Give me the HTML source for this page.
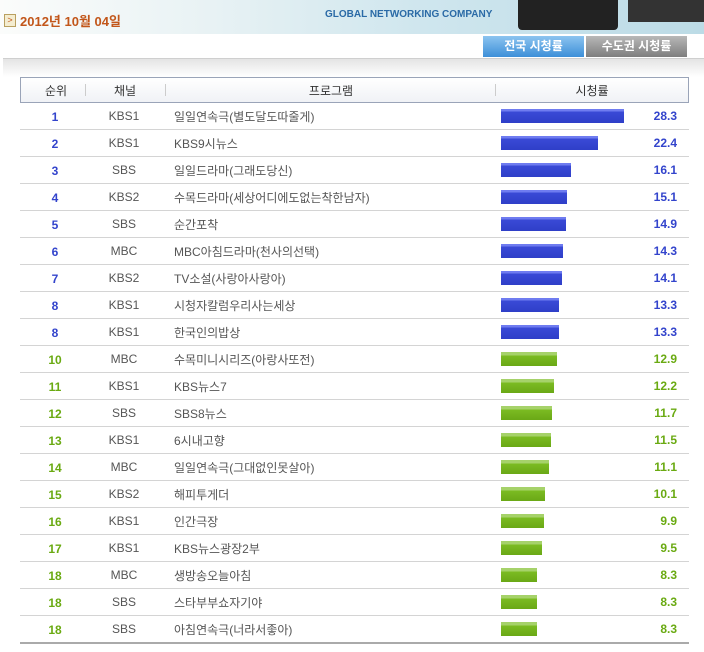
<!DOCTYPE html>
<html><head><meta charset="utf-8"><style>
body{margin:0;width:704px;height:652px;background:#fff;font-family:"Liberation Sans","Noto Sans CJK KR",sans-serif;position:relative;overflow:hidden}
.banner{position:absolute;left:0;top:0;width:704px;height:34px;background:linear-gradient(90deg,#fbfcfb 0%,#e8f2f4 30%,#cfe6ee 60%,#bcdbe6 100%)}
.date{position:absolute;left:20px;top:11px;font-size:13px;color:#c2561a;font-weight:bold}
.ic{position:absolute;left:4px;top:14px;width:10px;height:11px;border:1px solid #b9a060;background:#f4edd0;font-size:9px;line-height:11px;text-align:center;color:#c2561a}
.glob{position:absolute;left:325px;top:9px;font-size:10px;font-weight:bold;color:#2a6aa6}
.mon{position:absolute;left:518px;top:0;width:100px;height:30px;background:#222;border-radius:0 0 4px 4px}
.mon2{position:absolute;left:628px;top:0;width:76px;height:22px;background:#333}
.tab{position:absolute;top:36px;height:21px;width:101px;color:#fff;font-size:12px;font-weight:bold;text-align:center;line-height:21px}
.band{position:absolute;left:3px;top:58px;width:701px;height:18px;border-top:1px solid #cfcfcf;background:linear-gradient(#e4e4e4,#fff)}
.hdr{position:absolute;left:20px;top:77px;width:667px;height:24px;border:1px solid #9aa4b8;background:linear-gradient(#fff,#f0f2f6);font-size:12px;color:#333}
.hdr span{position:absolute;top:4px}
.sep{position:absolute;top:6px;width:1px;height:12px;background:#ccc}
.row{position:absolute;left:20px;width:669px;height:26px;border-bottom:1px solid #d4d4d4;font-size:12px;color:#555}
.row span{position:absolute;top:6px}
.r{width:70px;left:0;text-align:center;font-weight:bold;top:7px!important}
.c{width:70px;left:69px;text-align:center}
.p{left:154px;top:5px!important}
.v{right:12px;font-weight:bold}
.bar{position:absolute;left:481px;top:6px;height:14px}
.b .r,.b .v{color:#3344cc}.g .r,.g .v{color:#6aaa12}
.b .bar{background:linear-gradient(#6f7cf0 0,#6f7cf0 2px,#3a4ad6 3px,#2f3fc8 100%)}
.g .bar{background:linear-gradient(#a6d26a 0,#a6d26a 3px,#7bbb22 4px,#6aa816 100%)}
</style></head><body>
<div class="banner"></div><div class="mon"></div><div class="mon2"></div>
<div class="ic">&gt;</div><div class="date">2012년 10월 04일</div>
<div class="glob">GLOBAL NETWORKING COMPANY</div>
<div class="tab" style="left:483px;background:linear-gradient(#8cc4f0,#3d8fd8)">전국 시청률</div>
<div class="tab" style="left:586px;background:linear-gradient(#b8b8b8,#7e7e7e)">수도권 시청률</div>
<div class="band"></div>
<div class="hdr"><span style="left:0;width:70px;text-align:center">순위</span><div class="sep" style="left:64px"></div><span style="left:69px;width:70px;text-align:center">채널</span><div class="sep" style="left:144px"></div><span style="left:145px;width:330px;text-align:center">프로그램</span><div class="sep" style="left:474px"></div><span style="left:475px;width:192px;text-align:center">시청률</span></div>
<div class="row b" style="top:103px"><span class="r">1</span><span class="c">KBS1</span><span class="p">일일연속극(별도달도따줄게)</span><div class="bar" style="width:123px"></div><span class="v">28.3</span></div>
<div class="row b" style="top:130px"><span class="r">2</span><span class="c">KBS1</span><span class="p">KBS9시뉴스</span><div class="bar" style="width:97px"></div><span class="v">22.4</span></div>
<div class="row b" style="top:157px"><span class="r">3</span><span class="c">SBS</span><span class="p">일일드라마(그래도당신)</span><div class="bar" style="width:70px"></div><span class="v">16.1</span></div>
<div class="row b" style="top:184px"><span class="r">4</span><span class="c">KBS2</span><span class="p">수목드라마(세상어디에도없는착한남자)</span><div class="bar" style="width:66px"></div><span class="v">15.1</span></div>
<div class="row b" style="top:211px"><span class="r">5</span><span class="c">SBS</span><span class="p">순간포착</span><div class="bar" style="width:65px"></div><span class="v">14.9</span></div>
<div class="row b" style="top:238px"><span class="r">6</span><span class="c">MBC</span><span class="p">MBC아침드라마(천사의선택)</span><div class="bar" style="width:62px"></div><span class="v">14.3</span></div>
<div class="row b" style="top:265px"><span class="r">7</span><span class="c">KBS2</span><span class="p">TV소설(사랑아사랑아)</span><div class="bar" style="width:61px"></div><span class="v">14.1</span></div>
<div class="row b" style="top:292px"><span class="r">8</span><span class="c">KBS1</span><span class="p">시청자칼럼우리사는세상</span><div class="bar" style="width:58px"></div><span class="v">13.3</span></div>
<div class="row b" style="top:319px"><span class="r">8</span><span class="c">KBS1</span><span class="p">한국인의밥상</span><div class="bar" style="width:58px"></div><span class="v">13.3</span></div>
<div class="row g" style="top:346px"><span class="r">10</span><span class="c">MBC</span><span class="p">수목미니시리즈(아랑사또전)</span><div class="bar" style="width:56px"></div><span class="v">12.9</span></div>
<div class="row g" style="top:373px"><span class="r">11</span><span class="c">KBS1</span><span class="p">KBS뉴스7</span><div class="bar" style="width:53px"></div><span class="v">12.2</span></div>
<div class="row g" style="top:400px"><span class="r">12</span><span class="c">SBS</span><span class="p">SBS8뉴스</span><div class="bar" style="width:51px"></div><span class="v">11.7</span></div>
<div class="row g" style="top:427px"><span class="r">13</span><span class="c">KBS1</span><span class="p">6시내고향</span><div class="bar" style="width:50px"></div><span class="v">11.5</span></div>
<div class="row g" style="top:454px"><span class="r">14</span><span class="c">MBC</span><span class="p">일일연속극(그대없인못살아)</span><div class="bar" style="width:48px"></div><span class="v">11.1</span></div>
<div class="row g" style="top:481px"><span class="r">15</span><span class="c">KBS2</span><span class="p">해피투게더</span><div class="bar" style="width:44px"></div><span class="v">10.1</span></div>
<div class="row g" style="top:508px"><span class="r">16</span><span class="c">KBS1</span><span class="p">인간극장</span><div class="bar" style="width:43px"></div><span class="v">9.9</span></div>
<div class="row g" style="top:535px"><span class="r">17</span><span class="c">KBS1</span><span class="p">KBS뉴스광장2부</span><div class="bar" style="width:41px"></div><span class="v">9.5</span></div>
<div class="row g" style="top:562px"><span class="r">18</span><span class="c">MBC</span><span class="p">생방송오늘아침</span><div class="bar" style="width:36px"></div><span class="v">8.3</span></div>
<div class="row g" style="top:589px"><span class="r">18</span><span class="c">SBS</span><span class="p">스타부부쇼자기야</span><div class="bar" style="width:36px"></div><span class="v">8.3</span></div>
<div class="row g" style="top:616px;border-bottom:2px solid #aaa"><span class="r">18</span><span class="c">SBS</span><span class="p">아침연속극(너라서좋아)</span><div class="bar" style="width:36px"></div><span class="v">8.3</span></div>
</body></html>
